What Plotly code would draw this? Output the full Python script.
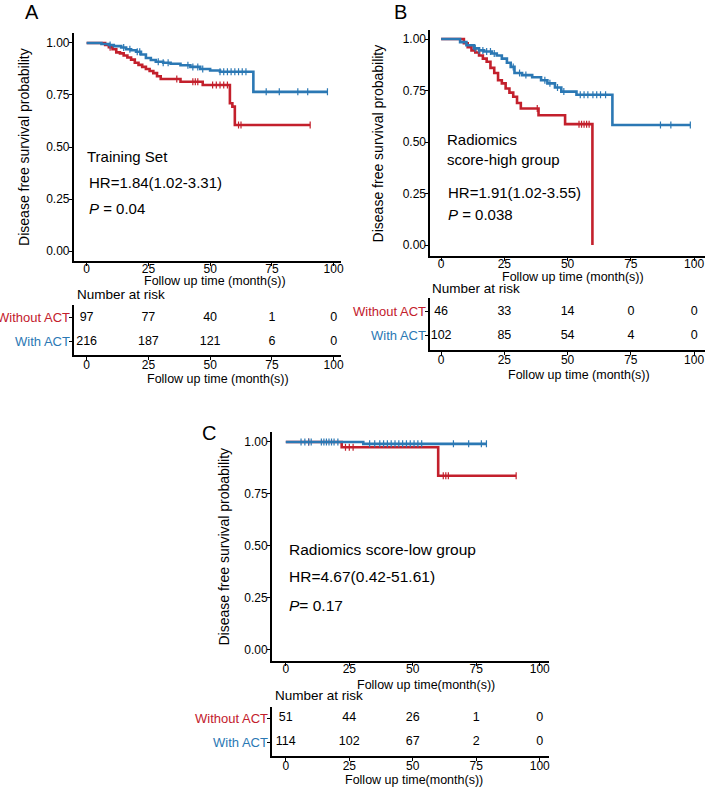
import plotly.graph_objects as go

W, H = 708, 787
RED = "#C3202C"
BLUE = "#2B78B4"
FONT = "Liberation Sans, Arial, sans-serif"

# ---- panel A (training set) ----
a_red_t = [0, 7.5, 9, 10.5, 12, 13.5, 15, 16.5, 18, 19.5, 21, 22.5, 24, 25.5, 27, 28.5, 30, 38, 47, 58, 59, 60, 90.5]
a_red_s = [1, 0.99, 0.98, 0.97, 0.955, 0.95, 0.94, 0.93, 0.92, 0.905, 0.895, 0.885, 0.875, 0.865, 0.855, 0.84, 0.827,
           0.814, 0.798, 0.71, 0.694, 0.606, 0.606]
a_blue_t = [0, 6, 9, 11, 14, 16, 18, 20, 22, 24, 26, 28, 31, 34, 38, 42, 46, 50, 54, 67.5, 97.5]
a_blue_s = [1, 0.995, 0.99, 0.985, 0.978, 0.97, 0.965, 0.958, 0.945, 0.928, 0.918, 0.91, 0.905, 0.9, 0.893, 0.885,
            0.875, 0.868, 0.862, 0.765, 0.765]
a_red_cens = [9.5, 36.5, 43, 44, 45, 51, 52.5, 54, 55.5, 57, 61.5, 62.5, 90.5]
a_blue_cens = [9.5, 15, 17.5, 20.5, 21.5, 29, 31, 33, 41, 43, 45, 47, 54, 55.5, 57, 58.5, 60, 61.5, 63, 64.5,
               72.7, 78, 85.5, 89.5, 97.5]
a_risk_without = [97, 77, 40, 1, 0]
a_risk_with = [216, 187, 121, 6, 0]

# ---- panel B (radiomics score-high) ----
b_red_t = [0, 9, 10.5, 12, 13.5, 15, 16.5, 18, 19.5, 21, 22.5, 24, 25.5, 27, 28.5, 30, 31.5, 38.5, 49, 59.8]
b_red_s = [1, 0.98, 0.96, 0.945, 0.935, 0.92, 0.905, 0.89, 0.86, 0.835, 0.8, 0.785, 0.76, 0.74, 0.72, 0.69, 0.663,
           0.63, 0.587, 0.0]
b_blue_t = [0, 7.5, 10, 13, 15, 17, 20, 22, 24, 26, 27.5, 29, 32, 36, 39.5, 42, 45, 47.5, 53.5, 67.7, 98.5]
b_blue_s = [1, 0.985, 0.97, 0.955, 0.945, 0.94, 0.93, 0.92, 0.905, 0.885, 0.865, 0.835, 0.825, 0.815, 0.8, 0.785,
            0.765, 0.745, 0.73, 0.583, 0.583]
b_red_cens = [38, 54.5, 55.5, 56.5, 57.5, 58.5]
b_blue_cens = [13.5, 15, 16.5, 18, 19.5, 21, 28.5, 31, 33.5, 41, 43, 46, 48.5, 55, 56.5, 58, 60, 61.5, 63, 65,
               86.7, 90.8, 98.5]
b_risk_without = [46, 33, 14, 0, 0]
b_risk_with = [102, 85, 54, 4, 0]

# ---- panel C (radiomics score-low) ----
c_red_t = [0, 22, 60, 90.7]
c_red_s = [1, 0.975, 0.838, 0.838]
c_blue_t = [0, 30.5, 79]
c_blue_s = [1, 0.991, 0.991]
c_red_cens = [9, 23.5, 25, 26.5, 62, 63, 64, 90.7]
c_blue_cens = [6, 7.5, 9, 10, 14, 15, 16, 17, 18, 19, 20.5, 33, 35, 37, 38.5, 40, 41.5, 43, 44.5, 46, 47.5, 49,
               50.5, 52, 53.5, 66, 72, 77, 79]
c_risk_without = [51, 44, 26, 1, 0]
c_risk_with = [114, 102, 67, 2, 0]

risk_times = [0, 25, 50, 75, 100]


def fx(px):
    return px / W


def fy(px):
    return 1 - px / H


def step_at(ts, ss, t):
    val = ss[0]
    for ti, si in zip(ts, ss):
        if ti <= t:
            val = si
    return val


fig = go.Figure()
annotations = []
layout_axes = {}

panels = [
    dict(key="A", n=1, x0=74, x1=342, main=(33, 261), xr=(-5.24, 102.8), yr=(-0.048, 1.048),
         tab=(305, 355), tyr=(0.458, 2.54),
         red=(a_red_t, a_red_s, a_red_cens), blue=(a_blue_t, a_blue_s, a_blue_cens),
         risk=(a_risk_without, a_risk_with), letter=(32, 12),
         xtitle="Follow up time (month(s))", xt_main=(216, 281), xt_tab=(219, 379), nar=(75, 294),
         texts=[("Training Set", 85, 157), ("HR=1.84(1.02-3.31)", 87, 183), ("<i>P</i> = 0.04", 87, 208)],
         tsize=15, ylab_x=24),
    dict(key="B", n=3, x0=432, x1=708, main=(30, 256), xr=(-4.33, 104.3), yr=(-0.053, 1.044),
         tab=(298, 350), tyr=(0.417, 2.58),
         red=(b_red_t, b_red_s, b_red_cens), blue=(b_blue_t, b_blue_s, b_blue_cens),
         risk=(b_risk_without, b_risk_with), letter=(402, 12),
         xtitle="Follow up time (month(s))", xt_main=(575, 277), xt_tab=(581, 375), nar=(432, 288),
         texts=[("Radiomics", 447, 140), ("score-high group", 447, 160), ("HR=1.91(1.02-3.55)", 448, 192),
                ("<i>P</i> = 0.038", 448, 214)],
         tsize=15, ylab_x=380),
    dict(key="C", n=5, x0=273, x1=551, main=(432, 661), xr=(-5.5, 103.5), yr=(-0.053, 1.048),
         tab=(707, 756), tyr=(0.417, 2.46),
         red=(c_red_t, c_red_s, c_red_cens), blue=(c_blue_t, c_blue_s, c_blue_cens),
         risk=(c_risk_without, c_risk_with), letter=(210, 433),
         xtitle="Follow up time(month(s))", xt_main=(428, 685), xt_tab=(416, 780), nar=(274, 695),
         texts=[("Radiomics score-low group", 288, 549), ("HR=4.67(0.42-51.61)", 288, 576),
                ("<i>P</i>= 0.17", 288, 605)],
         tsize=15.5, ylab_x=224),
]

axis_common = dict(showgrid=False, zeroline=False, showline=True, linecolor="black", linewidth=1.5,
                   ticks="outside", ticklen=3, tickcolor="black", tickfont=dict(size=12, color="black"))

for p in panels:
    m, t = p["n"], p["n"] + 1
    xa_m, ya_m = f"x{m}", f"y{m}"
    xa_t, ya_t = f"x{t}", f"y{t}"

    # survival curves (red drawn first so blue sits on top)
    for (ts, ss, cens), col in [(p["red"], RED), (p["blue"], BLUE)]:
        fig.add_trace(go.Scatter(x=ts, y=ss, mode="lines", line=dict(color=col, width=2.6, shape="hv"),
                                 xaxis=xa_m, yaxis=ya_m, showlegend=False, hoverinfo="skip"))
        fig.add_trace(go.Scatter(x=cens, y=[step_at(ts, ss, c) for c in cens], mode="markers",
                                 marker=dict(symbol="line-ns", size=5, line=dict(color=col, width=1.2)),
                                 xaxis=xa_m, yaxis=ya_m, showlegend=False, hoverinfo="skip"))

    # number at risk table
    without, with_ = p["risk"]
    for row, vals in [(2, without), (1, with_)]:
        fig.add_trace(go.Scatter(x=risk_times, y=[row] * 5, mode="text", text=[str(v) for v in vals],
                                 textfont=dict(size=12.5, color="black", family=FONT),
                                 xaxis=xa_t, yaxis=ya_t, showlegend=False, hoverinfo="skip"))

    xdom = [fx(p["x0"]), fx(p["x1"])]
    layout_axes[f"xaxis{m}"] = dict(axis_common, domain=xdom, range=list(p["xr"]), anchor=ya_m,
                                    tickvals=risk_times, ticklabelstandoff=-7)
    layout_axes[f"yaxis{m}"] = dict(axis_common, domain=[fy(p["main"][1]), fy(p["main"][0])],
                                    range=list(p["yr"]), anchor=xa_m, ticklabelstandoff=-3,
                                    tickvals=[0, 0.25, 0.5, 0.75, 1], tickformat=".2f")
    layout_axes[f"xaxis{t}"] = dict(axis_common, domain=xdom, range=list(p["xr"]), anchor=ya_t,
                                    tickvals=risk_times, ticklabelstandoff=-5)
    layout_axes[f"yaxis{t}"] = dict(axis_common, domain=[fy(p["tab"][1]), fy(p["tab"][0])],
                                    range=list(p["tyr"]), anchor=xa_t, tickvals=[1, 2],
                                    showticklabels=False)

    # row labels of the risk table
    for label, row, col in [("Without ACT", 2, RED), ("With ACT", 1, BLUE)]:
        annotations.append(dict(text=label, xref="paper", yref=ya_t, x=fx(p["x0"] - 2), y=row,
                                xanchor="right", yanchor="middle", showarrow=False,
                                font=dict(size=13, color=col)))

    # axis titles, panel letter and statistics
    annotations.append(dict(text="Disease free survival probability", xref="paper", yref="paper",
                            x=fx(p["ylab_x"]), y=fy(sum(p["main"]) / 2), textangle=-90,
                            xanchor="center", yanchor="middle", showarrow=False, font=dict(size=14)))
    for (cx, cy) in [p["xt_main"], p["xt_tab"]]:
        annotations.append(dict(text=p["xtitle"], xref="paper", yref="paper", x=fx(cx), y=fy(cy),
                                xanchor="center", yanchor="middle", showarrow=False, font=dict(size=12.5)))
    annotations.append(dict(text="Number at risk", xref="paper", yref="paper", x=fx(p["nar"][0]),
                            y=fy(p["nar"][1]), xanchor="left", yanchor="middle", showarrow=False,
                            font=dict(size=13.5)))
    annotations.append(dict(text=p["key"], xref="paper", yref="paper", x=fx(p["letter"][0]),
                            y=fy(p["letter"][1]), xanchor="center", yanchor="middle", showarrow=False,
                            font=dict(size=20)))
    for txt, lx, ly in p["texts"]:
        annotations.append(dict(text=txt, xref="paper", yref="paper", x=fx(lx), y=fy(ly),
                                xanchor="left", yanchor="middle", showarrow=False,
                                font=dict(size=p["tsize"])))

fig.update_layout(
    width=W, height=H,
    margin=dict(l=0, r=0, t=0, b=0),
    paper_bgcolor="white", plot_bgcolor="white",
    font=dict(family=FONT, color="black"),
    annotations=annotations,
    **layout_axes,
)

# the page body has a default 8px margin which would shift and crop the figure
fig.write_html("out.html", config={"displayModeBar": False},
               post_script="document.body.style.margin='0';document.body.style.overflow='hidden';")
